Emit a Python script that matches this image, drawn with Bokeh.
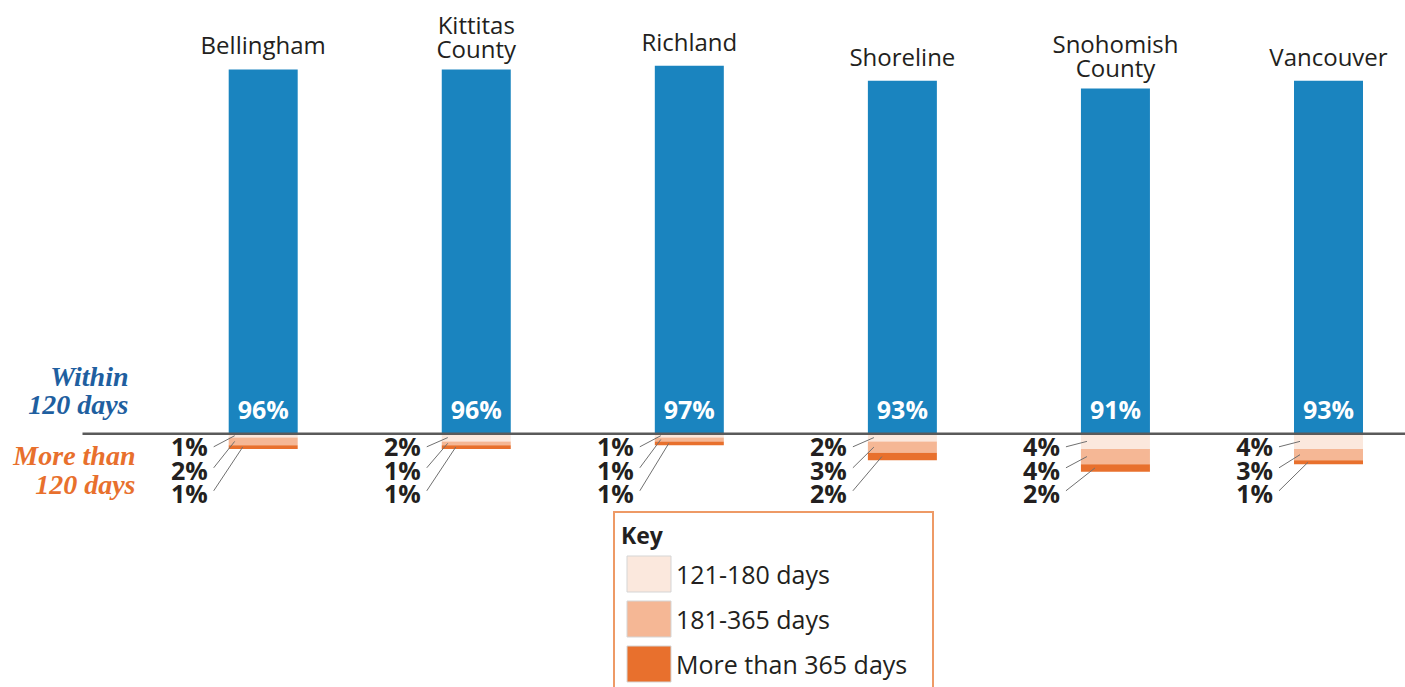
import numpy as np
from bokeh.plotting import figure
from bokeh.models import Range1d, Legend, LegendItem, Label, ColumnDataSource
from bokeh.core.properties import value
from bokeh.embed import file_html
from bokeh.resources import INLINE

# ---------------- data ----------------
cities = ["Bellingham", "Kittitas\nCounty", "Richland", "Shoreline", "Snohomish\nCounty", "Vancouver"]
within_120 = [96, 96, 97, 93, 91, 93]
days_121_180 = [1, 2, 1, 2, 4, 4]
days_181_365 = [2, 1, 1, 3, 4, 3]
days_over_365 = [1, 1, 1, 2, 2, 1]
series_names = ["121-180 days", "181-365 days", "More than 365 days"]

# ---------------- styling / layout ----------------
W, H = 1405, 687
BASE_PX = 433.3          # pixel row of the zero line
PX_PER_PCT = 3.795       # vertical pixels per percent
FIRST_PX = 262.7         # pixel column of first bar centre
STEP_PX = 213.06         # pixels between bar centres

BLUE = "#1a84bf"
C1, C2, C3 = "#fbe8dd", "#f5b795", "#e8702d"
TXT = "#231f20"
SANS = "Open Sans"

y_top = BASE_PX / PX_PER_PCT
y_bot = -(H - BASE_PX) / PX_PER_PCT
x_start = -FIRST_PX / STEP_PX
x_end = (W - FIRST_PX) / STEP_PX

p = figure(width=W, height=H, x_range=Range1d(x_start, x_end), y_range=Range1d(y_bot, y_top),
           output_backend="svg", toolbar_location=None, min_border=0,
           x_axis_location=None, y_axis_location=None)
p.grid.visible = False
p.outline_line_color = None
p.background_fill_color = "white"

n = len(cities)
idx = np.arange(n)
bar_w = 69 / STEP_PX

w = np.array(within_120, dtype=float)
a = np.array(days_121_180, dtype=float)
b = np.array(days_181_365, dtype=float)
c = np.array(days_over_365, dtype=float)
t1 = -a
t2 = t1 - b
t3 = t2 - c

# blue bars
p.vbar(x=idx, bottom=0, top=w, width=bar_w, fill_color=BLUE, line_color=None)
# negative stacked bars
p.vbar(x=idx, top=0, bottom=t1, width=bar_w, fill_color=C1, line_color=None)
p.vbar(x=idx, top=t1, bottom=t2, width=bar_w, fill_color=C2, line_color=None)
p.vbar(x=idx, top=t2, bottom=t3, width=bar_w, fill_color=C3, line_color=None)

# key swatch renderers (zero height, hidden beneath the zero line)
zeros = np.zeros(n)
key_rs = [p.vbar(x=idx, top=zeros, bottom=zeros, width=bar_w, fill_color=col,
                 line_color="#d5d5d5", line_width=1) for col in (C1, C2, C3)]

# zero line
p.segment(x0=[(82 - FIRST_PX) / STEP_PX], y0=[0], x1=[x_end], y1=[0],
          line_color="#5a5a5a", line_width=2.5)

# city labels
city_src = ColumnDataSource(dict(x=idx, y=w, text=cities,
                                 off=[-4 if "\n" in s else -8 for s in cities]))
p.text(x="x", y="y", text="text", y_offset="off", source=city_src, text_align="center",
       text_baseline="bottom", text_font=value(SANS), text_font_size="24px",
       text_color=TXT, text_line_height=0.74)

# percentage inside blue bars
p.text(x=idx, y=zeros, text=[f"{v}%" for v in within_120], text_align="center",
       text_baseline="alphabetic", y_offset=-25, text_font=value(SANS), text_font_size="25px",
       text_font_style="bold", text_color="white")

# negative labels + leader lines
label_off = [12, 36, 59]
line_start_off = [13, 34, 57]
line_end_dx = [6, 6, 14]
lx, ly, ltxt, loff = [], [], [], []
sx0, sy0, sx1, sy1 = [], [], [], []
segs = [(a, zeros, t1), (b, t1, t2), (c, t2, t3)]
for i in range(n):
    left = i - bar_w / 2
    for k, (vals, top, bot) in enumerate(segs):
        lx.append(left - 21 / STEP_PX)
        ly.append(0)
        ltxt.append(f"{int(vals[i])}%")
        loff.append(label_off[k])
        sx0.append(left - 15 / STEP_PX)
        sy0.append(-line_start_off[k] / PX_PER_PCT)
        sx1.append(left + line_end_dx[k] / STEP_PX)
        sy1.append((top[i] + bot[i]) / 2)

p.segment(x0=sx0, y0=sy0, x1=sx1, y1=sy1, line_color="#707070", line_width=1)
src = ColumnDataSource(dict(x=lx, y=ly, text=ltxt, off=loff))
p.text(x="x", y="y", text="text", y_offset="off", source=src, text_align="right",
       text_baseline="alphabetic", text_font=value(SANS), text_font_size="25px",
       text_font_style="bold", text_color=TXT)

# left side labels
for txt, x, yb, col in [("Within", 128, 376, "#1f5fa0"), ("120 days", 128, 404, "#1f5fa0"),
                        ("More than", 135, 455, "#e8702d"), ("120 days", 135, 484, "#e8702d")]:
    p.add_layout(Label(x=x, y=H - yb, x_units="screen", y_units="screen", text=txt,
                       text_align="right", text_baseline="alphabetic",
                       text_font="Liberation Serif", text_font_style="bold italic",
                       text_font_size="28px", text_color=col))

# legend (key)
items = [LegendItem(label=nm, renderers=[r]) for nm, r in zip(series_names, key_rs)]
legend = Legend(items=items, location=(613, -7), title="Key",
                title_text_font=SANS, title_text_font_style="bold", title_text_font_size="23px",
                title_text_color=TXT, title_standoff=0,
                label_text_font=SANS, label_text_font_size="25px", label_text_color=TXT,
                glyph_width=55, glyph_height=45, label_height=45, label_standoff=0,
                label_width=250, spacing=0, padding=6, margin=0,
                border_line_color="#ee9a66", border_line_width=2, border_line_alpha=1.0,
                background_fill_color="white", background_fill_alpha=1.0)
p.add_layout(legend)

open("out.html", "w").write(file_html(p, INLINE))
